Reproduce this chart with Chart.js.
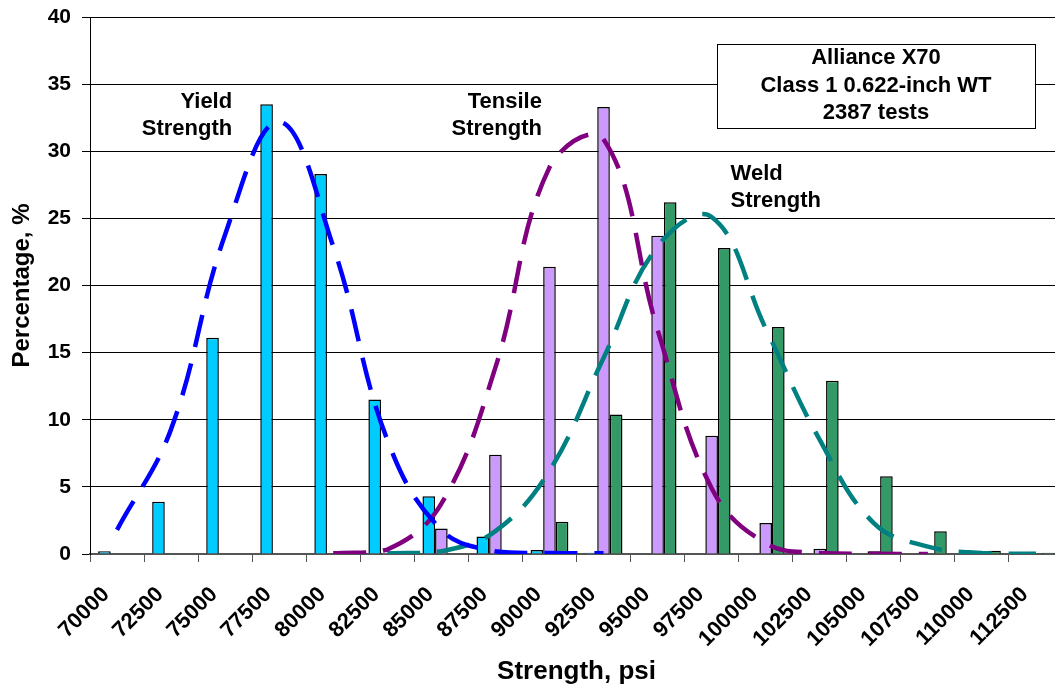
<!DOCTYPE html>
<html>
<head>
<meta charset="utf-8">
<script src="https://cdn.jsdelivr.net/npm/chart.js@4.4.1/dist/chart.umd.min.js"></script>
<style>
  html, body { margin: 0; padding: 0; background: #fff; overflow: hidden; }
  #wrap { width: 1055px; height: 688px; overflow: hidden; }
</style>
</head>
<body>
<div id="wrap"><canvas id="strengthChart" width="1064" height="688"></canvas></div>
<script>
// categories on the x axis (psi)
const categories = ['70000', '72500', '75000', '77500', '80000', '82500', '85000', '87500', '90000',
  '92500', '95000', '97500', '100000', '102500', '105000', '107500', '110000', '112500'];

// histogram bars, percentage of tests
const yieldPct   = [0.2, 3.9, 16.1, 33.5, 28.3, 11.5, 4.3, 1.3, 0.3, 0.1, 0, 0, 0, 0, 0, 0, 0, 0];
const tensilePct = [0, 0, 0, 0, 0, 0.1, 1.9, 7.4, 21.4, 33.3, 23.7, 8.8, 2.3, 0.4, 0.2, 0, 0, 0];
const weldPct    = [0, 0, 0, 0, 0, 0, 0, 0.2, 2.4, 10.4, 26.2, 22.8, 16.9, 12.9, 5.8, 1.7, 0.25, 0.1];

// fitted curves (dashed)
const yieldFit   = [1.8, 9.3, 23.8, 32.2, 22.9, 8.5, 1.8, 0.2, 0.07, 0.05, null, null, null, null, null, null, null, null];
const tensileFit = [null, null, null, null, 0.05, 0.33, 3.75, 13.9, 28.8, 30.9, 16.7, 4.9, 0.8, 0.07, 0.02, 0, null, null];
const weldFit    = [null, null, null, null, null, 0.05, 0.2, 1.7, 6.2, 14.6, 22.9, 25.1, 16.8, 8.5, 2.3, 0.55, 0.07, 0.02];

const yTicks = [0, 5, 10, 15, 20, 25, 30, 35, 40];

const boxLines = ['Alliance X70', 'Class 1 0.622-inch WT', '2387 tests'];

const FONT = "'Liberation Sans', Arial, Helvetica, sans-serif";
Chart.defaults.font.family = FONT;
Chart.defaults.color = '#000';

// text labels next to the curves: [category index, value] of the first line
const curveNotes = [
  { lines: ['Yield', 'Strength'], at: [2.13, 33.7], align: 'right' },
  { lines: ['Tensile', 'Strength'], at: [7.86, 33.7], align: 'right' },
  { lines: ['Weld', 'Strength'], at: [11.35, 28.3], align: 'left' }
];

// rotated category labels, drawn by hand so they sit like the original
const xLabelsPlugin = {
  id: 'xLabels',
  afterDraw(chart) {
    const ctx = chart.ctx;
    const xs = chart.scales.x;
    ctx.save();
    ctx.font = 'bold 22px ' + FONT;
    ctx.fillStyle = '#000';
    ctx.textAlign = 'right';
    ctx.textBaseline = 'middle';
    categories.forEach((c, i) => {
      ctx.save();
      ctx.translate(xs.getPixelForValue(i) - 11, xs.top + 37);
      ctx.rotate(-Math.PI / 4);
      ctx.fillText(c, 0, 0);
      ctx.restore();
    });
    ctx.restore();
  }
};

const notesPlugin = {
  id: 'notes',
  afterDraw(chart) {
    const ctx = chart.ctx;
    const xs = chart.scales.x, ys = chart.scales.y;
    ctx.save();
    ctx.font = 'bold 22px ' + FONT;
    ctx.fillStyle = '#000';
    ctx.textBaseline = 'middle';
    curveNotes.forEach(n => {
      ctx.textAlign = n.align;
      const px = xs.getPixelForValue(n.at[0]);
      const py = ys.getPixelForValue(n.at[1]);
      n.lines.forEach((t, i) => ctx.fillText(t, px, py + i * 27));
    });

    // info box top right
    const bx1 = xs.getPixelForValue(11.1), bx2 = xs.getPixelForValue(16.98);
    const by1 = ys.getPixelForValue(38.0), by2 = ys.getPixelForValue(31.75);
    ctx.fillStyle = '#fff';
    ctx.fillRect(bx1, by1, bx2 - bx1, by2 - by1);
    ctx.strokeStyle = '#000';
    ctx.lineWidth = 1;
    ctx.strokeRect(Math.round(bx1) + 0.5, Math.round(by1) + 0.5, Math.round(bx2 - bx1), Math.round(by2 - by1));
    ctx.fillStyle = '#000';
    ctx.textAlign = 'center';
    const cx = (bx1 + bx2) / 2;
    boxLines.forEach((t, i) => ctx.fillText(t, cx, by1 + 14.5 + i * 27.5));
    ctx.restore();
  }
};

function barSet(label, data, color) {
  return {
    type: 'bar', label: label, data: data,
    backgroundColor: color, borderColor: '#000', borderWidth: 1.5,
    categoryPercentage: 0.70, barPercentage: 1.0, order: 2
  };
}

function fitSet(label, data, color) {
  return {
    type: 'line', label: label, data: data,
    borderColor: color, borderWidth: 4.5, borderDash: [33, 17], borderCapStyle: 'butt',
    pointRadius: 0, tension: 0.4, fill: false, spanGaps: false, order: 1
  };
}

const ctx = document.getElementById('strengthChart').getContext('2d');
new Chart(ctx, {
  data: {
    labels: categories,
    datasets: [
      barSet('Yield', yieldPct, '#00CCFF'),
      barSet('Tensile', tensilePct, '#CC99FF'),
      barSet('Weld', weldPct, '#339966'),
      fitSet('Yield fit', yieldFit, '#0000FF'),
      fitSet('Tensile fit', tensileFit, '#800080'),
      fitSet('Weld fit', weldFit, '#008080')
    ]
  },
  options: {
    responsive: false,
    animation: false,
    devicePixelRatio: 1,
    layout: { padding: { top: 17, right: 1, bottom: 0, left: 0 } },
    plugins: {
      legend: { display: false },
      tooltip: { enabled: false }
    },
    scales: {
      x: {
        type: 'category',
        offset: true,
        grid: { offset: true, drawOnChartArea: false, drawTicks: true, tickLength: 8, color: '#555' },
        border: { color: '#555', width: 2 },
        ticks: { display: false, autoSkip: false },
        title: {
          display: true, text: 'Strength, psi',
          font: { size: 26, weight: 'bold' }, color: '#000',
          padding: { top: 0, bottom: 1 }
        },
        afterFit: s => { s.height = 134; }
      },
      y: {
        min: 0, max: 40,
        afterBuildTicks: s => { s.ticks = yTicks.map(v => ({ value: v })); },
        grid: { color: '#000', lineWidth: 1, tickLength: 8 },
        border: { color: '#000', width: 1 },
        ticks: { padding: 11, font: { size: 21, weight: 'bold' }, color: '#000' },
        title: {
          display: true, text: 'Percentage, %',
          font: { size: 24, weight: 'bold' }, color: '#000',
          padding: { top: 8, bottom: 0 }
        },
        afterFit: s => { s.width = 90; s.paddingTop = 0; s.paddingBottom = 0; }
      }
    }
  },
  plugins: [xLabelsPlugin, notesPlugin]
});
</script>
</body>
</html>
